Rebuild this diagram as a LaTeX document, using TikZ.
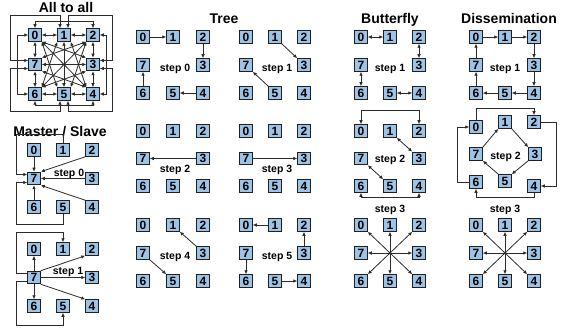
\documentclass[tikz,border=0pt]{standalone}
\usepackage{fontspec}
\setmainfont{Liberation Sans}
\usepackage{tikz}
\usetikzlibrary{arrows.meta, calc}
\definecolor{boxBlue}{HTML}{9DC3E6}
\definecolor{boxEdge}{HTML}{1F1F1F}
\definecolor{wireGray}{HTML}{2B2B2B}

\tikzset{
  proc/.style={draw=boxEdge, fill=boxBlue, line width=1pt, minimum size=12.5pt,
    inner sep=0pt, font=\bfseries\fontsize{12}{12}\selectfont},
  link/.style={draw=wireGray, line width=0.8pt, -{Latex[length=4pt,width=3.6pt]}},
  dlink/.style={link, {Latex[length=4pt,width=3.6pt]}-{Latex[length=4pt,width=3.6pt]}},
  title/.style={font=\bfseries\fontsize{14}{14}\selectfont, anchor=base},
  steplabel/.style={font=\bfseries\fontsize{10.5}{10.5}\selectfont, anchor=base},
}

% eight processes: 0 1 2 / 7 . 3 / 6 5 4
\newcommand{\octet}[5]{%
  \begin{scope}[shift={(#2,#3)}]
    \node[proc] (#1-0) at (0,0) {0};
    \node[proc] (#1-1) at (#4,0) {1};
    \node[proc] (#1-2) at (2*#4,0) {2};
    \node[proc] (#1-7) at (0,#5) {7};
    \node[proc] (#1-3) at (2*#4,#5) {3};
    \node[proc] (#1-6) at (0,2*#5) {6};
    \node[proc] (#1-5) at (#4,2*#5) {5};
    \node[proc] (#1-4) at (2*#4,2*#5) {4};
  \end{scope}}

\begin{document}
\begin{tikzpicture}[x=1pt, y=-1pt]
  \fill[white] (0,0) rectangle (567,331);
  \useasboundingbox (0,0) rectangle (567,331);

  % All to all
  \node[title] at (66,13) {All to all};
  \octet{a}{35}{35}{29}{29.5}
  \foreach \p/\q in {0/1, 1/2, 2/3, 3/4, 4/5, 5/6, 6/7, 7/0}
    \draw[dlink] (a-\p) -- (a-\q);
  \draw[dlink] (a-0.south east) -- (a-3.north west);
  \draw[dlink] (a-0.south east) -- (a-4.north west);
  \draw[dlink] (a-0.south east) -- (a-5.north west);
  \draw[dlink] (a-2.south west) -- (a-7.north east);
  \draw[dlink] (a-2.south west) -- (a-6.north east);
  \draw[dlink] (a-2.south west) -- (a-5.north east);
  \draw[dlink] (a-4.north west) -- (a-7.south east);
  \draw[dlink] (a-4.north west) -- (a-1.south east);
  \draw[dlink] (a-6.north east) -- (a-1.south west);
  \draw[dlink] (a-6.north east) -- (a-3.south west);
  \draw[dlink] (a-1) -- (a-5);
  \draw[dlink] (a-7) -- (a-3);
  \draw[dlink] (a-0.north) -- ++(0,-7) -| (a-2.north);
  \draw[dlink] (a-2.east) -- ++(7,0) |- (a-4.east);
  \draw[dlink] (a-4.south) -- ++(0,5) -| (a-6.south);
  \draw[dlink] (a-6.west) -- ++(-11,0) |- (a-0.west);
  \draw[dlink] ([xshift=-4pt]a-1.north) -- ++(0,-13) -| ([xshift=-18pt,yshift=4pt]a-7.west) -- ([yshift=4pt]a-7.west);
  \draw[dlink] ([xshift=4pt]a-1.north) -- ++(0,-13) -| ([xshift=13pt,yshift=4pt]a-3.east) -- ([yshift=4pt]a-3.east);
  \draw[dlink] ([yshift=-4pt]a-3.east) -- ++(13,0) |- ([xshift=4pt,yshift=-11pt]a-5.south) -- ([xshift=4pt]a-5.south);
  \draw[dlink] ([xshift=-4pt]a-5.south) -- ++(0,11) -| ([xshift=-18pt,yshift=-4pt]a-7.west) -- ([yshift=-4pt]a-7.west);

  % Master / Slave
  \node[title] at (60,137) {Master / Slave};
  \octet{m0}{34}{150}{29}{28.5}
  \draw[link] (m0-0) -- (m0-7);
  \draw[link] (m0-1.north) -- ++(0,-9) -| ([xshift=-11pt,yshift=4pt]m0-7.west) -- ([yshift=4pt]m0-7.west);
  \draw[link] (m0-2.south west) -- (m0-7.north east);
  \draw[link] (m0-3) -- (m0-7);
  \draw[link] (m0-4.north west) -- (m0-7.south east);
  \draw[link] (m0-6) -- (m0-7);
  \draw[link] (m0-5.south) -- ++(0,11) -| ([xshift=-11pt,yshift=-4pt]m0-7.west) -- ([yshift=-4pt]m0-7.west);
  \node[steplabel] at ($(m0-7)!0.5!(m0-3)+(6,-2.5)$) {step 0};

  \octet{m1}{34}{249}{29}{28.5}
  \draw[link] (m1-7) -- (m1-0);
  \draw[link] ([yshift=4pt]m1-7.west) -- ++(-11,0) |- ([yshift=10pt]m1-1.north) -- (m1-1.north);
  \draw[link] (m1-7.north east) -- (m1-2.south west);
  \draw[link] (m1-7) -- (m1-3);
  \draw[link] (m1-7.south east) -- (m1-4.north west);
  \draw[link] (m1-7) -- (m1-6);
  \draw[link] ([yshift=-4pt]m1-7.west) -- ++(-11,0) |- ([yshift=-13pt]m1-5.south) -- (m1-5.south);
  \node[steplabel] at ($(m1-7)!0.5!(m1-3)+(5,-3)$) {step 1};

  % Tree
  \node[title] at (224,24) {Tree};
  \octet{t0}{143}{37}{30}{28}
  \draw[link] (t0-0) -- (t0-1);
  \draw[link] (t0-2) -- (t0-3);
  \draw[link] (t0-4) -- (t0-5);
  \draw[link] (t0-6) -- (t0-7);
  \node[steplabel] at ($(t0-7)!0.5!(t0-3)+(2,6.5)$) {step 0};

  \octet{t1}{246}{37}{29}{28}
  \draw[link] (t1-5.north west) -- (t1-7.south east);
  \draw[link] (t1-1.south east) -- (t1-3.north west);
  \node[steplabel] at ($(t1-7)!0.5!(t1-3)+(2,6.5)$) {step 1};

  \octet{t2}{143}{131}{30}{27.5}
  \draw[link] (t2-3) -- (t2-7);
  \node[steplabel] at ($(t2-7)!0.5!(t2-3)+(2,14.5)$) {step 2};

  \octet{t3}{246}{131}{29}{27.5}
  \draw[link] (t3-7) -- (t3-3);
  \node[steplabel] at ($(t3-7)!0.5!(t3-3)+(2,14.5)$) {step 3};

  \octet{t4}{143}{225}{30}{28}
  \draw[link] (t4-3.north west) -- (t4-1.south east);
  \draw[link] (t4-7.south east) -- (t4-5.north west);
  \node[steplabel] at ($(t4-7)!0.5!(t4-3)+(2,6.5)$) {step 4};

  \octet{t5}{246}{225}{29}{28}
  \draw[link] (t5-1) -- (t5-0);
  \draw[link] (t5-7) -- (t5-6);
  \draw[link] (t5-3) -- (t5-2);
  \draw[link] (t5-5) -- (t5-4);
  \node[steplabel] at ($(t5-7)!0.5!(t5-3)+(2,6.5)$) {step 5};

  % Butterfly
  \node[title] at (390,24) {Butterfly};
  \octet{b1}{361}{37}{29}{28}
  \draw[dlink] (b1-0) -- (b1-1);
  \draw[dlink] (b1-2) -- (b1-3);
  \draw[dlink] (b1-7) -- (b1-6);
  \draw[dlink] (b1-5) -- (b1-4);
  \node[steplabel] at ($(b1-7)!0.5!(b1-3)+(0,6.5)$) {step 1};

  \octet{b2}{361}{131}{29}{27.5}
  \draw[dlink] (b2-0.north) -- ++(0,-14) -| (b2-2.north);
  \draw[dlink] (b2-6.south) -- ++(0,5) -| (b2-4.south);
  \draw[dlink] (b2-1.south east) -- (b2-3.north west);
  \draw[dlink] (b2-7.south east) -- (b2-5.north west);
  \node[steplabel] at ($(b2-7)!0.5!(b2-3)+(0,4)$) {step 2};

  \octet{b3}{361}{225}{29}{28}
  \coordinate (b3c) at ($(b3-7)!0.5!(b3-3)$);
  \foreach \k/\s in {0/south east, 1/south, 2/south west, 3/west, 4/north west, 5/north, 6/north east, 7/east}
    \draw[link] (b3c) -- (b3-\k.\s);
  \node[steplabel] at ([yshift=6pt]b3-1.north) {step 3};

  % Dissemination
  \node[title] at (509,24) {Dissemination};
  \octet{d1}{476}{37}{29}{28}
  \foreach \p/\q in {0/1, 1/2, 2/3, 3/4, 4/5, 5/6, 6/7, 7/0}
    \draw[link] (d1-\p) -- (d1-\q);
  \node[steplabel] at ($(d1-7)!0.5!(d1-3)+(0,6.5)$) {step 1};

  \node[proc] (d2-0) at (476,127) {0};
  \node[proc] (d2-1) at (505,122) {1};
  \node[proc] (d2-2) at (534,122) {2};
  \node[proc] (d2-7) at (476,154) {7};
  \node[proc] (d2-3) at (535,154) {3};
  \node[proc] (d2-6) at (476,182) {6};
  \node[proc] (d2-5) at (505,181) {5};
  \node[proc] (d2-4) at (534,186) {4};
  \draw[link] (d2-0.north) -- ++(0,-12) -| (d2-2.north);
  \draw[link] (d2-2.east) -- ++(16,0) |- (d2-4.east);
  \draw[link] (d2-4.south) -- ++(0,5) -| (d2-6.south);
  \draw[link] (d2-6.west) -- ++(-12,0) |- (d2-0.west);
  \draw[link] (d2-7.north east) -- (d2-1.south west);
  \draw[link] (d2-1.south east) -- (d2-3.north west);
  \draw[link] (d2-3.south west) -- (d2-5.north east);
  \draw[link] (d2-5.north west) -- (d2-7.south east);
  \node[steplabel] at ($(d2-7)!0.5!(d2-3)+(0,6)$) {step 2};

  \octet{d3}{476}{225}{29}{28}
  \coordinate (d3c) at ($(d3-7)!0.5!(d3-3)$);
  \foreach \k/\s in {0/south east, 1/south, 2/south west, 3/west, 4/north west, 5/north, 6/north east, 7/east}
    \draw[link] (d3c) -- (d3-\k.\s);
  \node[steplabel] at ([yshift=6pt]d3-1.north) {step 3};
\end{tikzpicture}
\end{document}
